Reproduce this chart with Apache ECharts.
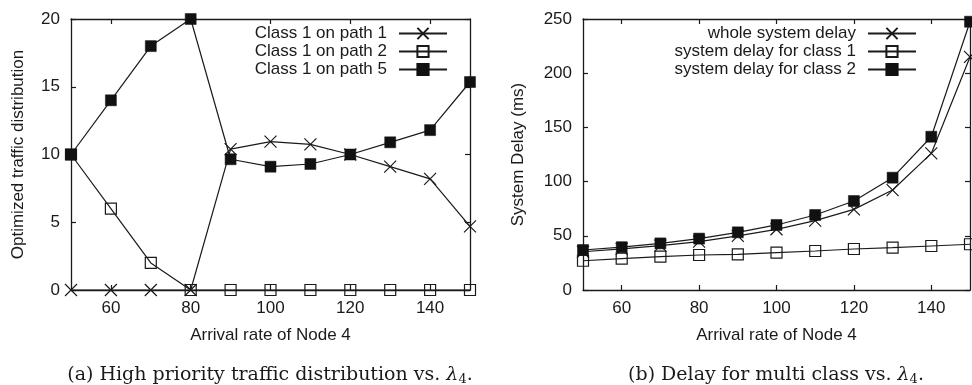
<!DOCTYPE html>
<html>
<head>
<meta charset="utf-8">
<script src="https://cdn.jsdelivr.net/npm/echarts@6/dist/echarts.min.js"></script>
<style>
  html, body { margin: 0; padding: 0; background: #fff; }
  #chart { width: 972px; height: 385px; }
</style>
</head>
<body>
<div id="chart"></div>
<script>
// Arrival rate of node 4 (shared x values for both panels)
const arrivalRates = [50, 60, 70, 80, 90, 100, 110, 120, 130, 140, 150];
const xTickValues = [60, 80, 100, 120, 140];

// (a) optimized class-1 traffic on each path
const classOnPath1 = [0, 0, 0, 0, 10.4, 10.95, 10.75, 10, 9.1, 8.2, 4.7];
const classOnPath2 = [10, 6, 2, 0, 0, 0, 0, 0, 0, 0, 0];
const classOnPath5 = [10, 14, 18, 20, 9.65, 9.1, 9.3, 10, 10.9, 11.8, 15.35];

// (b) system delay in ms
const wholeSystemDelay = [35.3, 38, 41, 44.6, 50, 56, 64, 74.4, 92.2, 126, 215];
const class1Delay = [27, 28.9, 30.7, 32.3, 32.9, 34.4, 36, 37.8, 39, 40.6, 42.2];
const class2Delay = [36.9, 39.5, 43, 47.4, 53.2, 60, 69.2, 82.1, 103.6, 141.4, 247.5];

const FONT = 'Liberation Sans';
const INK = '#1a1a1a';
const crossPath = 'path://M0,0L10,10M10,0L0,10';

function pairs(ys) {
  return arrivalRates.map((x, i) => [x, ys[i]]);
}

function bottomAxis(grid) {
  return {
    type: 'value', gridIndex: grid, position: 'bottom', min: 50, max: 150,
    name: 'Arrival rate of Node 4', nameLocation: 'middle', nameGap: 37,
    nameTextStyle: { fontFamily: FONT, fontSize: 17, color: INK },
    axisLine: { show: true, onZero: false, lineStyle: { color: INK, width: 1.3 } },
    axisTick: { show: true, inside: true, length: 5, customValues: xTickValues, lineStyle: { color: INK, width: 1.2 } },
    axisLabel: { show: true, margin: 10, customValues: xTickValues, fontFamily: FONT, fontSize: 17, color: INK },
    splitLine: { show: false }
  };
}

function topAxis(grid) {
  return {
    type: 'value', gridIndex: grid, position: 'top', min: 50, max: 150,
    axisLine: { show: true, onZero: false, lineStyle: { color: INK, width: 1.3 } },
    axisTick: { show: true, inside: true, length: 5, customValues: xTickValues, lineStyle: { color: INK, width: 1.2 } },
    axisLabel: { show: false },
    splitLine: { show: false }
  };
}

function leftAxis(grid, max, interval, name, gap) {
  return {
    type: 'value', gridIndex: grid, position: 'left', min: 0, max: max, interval: interval,
    name: name, nameLocation: 'middle', nameGap: gap,
    nameTextStyle: { fontFamily: FONT, fontSize: 17, color: INK },
    axisLine: { show: true, onZero: false, lineStyle: { color: INK, width: 1.3 } },
    axisTick: { show: true, inside: true, length: 5, lineStyle: { color: INK, width: 1.2 } },
    axisLabel: { show: true, margin: 11, fontFamily: FONT, fontSize: 17, color: INK },
    splitLine: { show: false }
  };
}

function rightAxis(grid, max, interval) {
  return {
    type: 'value', gridIndex: grid, position: 'right', min: 0, max: max, interval: interval,
    axisLine: { show: true, onZero: false, lineStyle: { color: INK, width: 1.3 } },
    axisTick: { show: true, inside: true, length: 5, lineStyle: { color: INK, width: 1.2 } },
    axisLabel: { show: false },
    splitLine: { show: false }
  };
}

function series(name, ys, xi, yi, kind) {
  const s = {
    name: name, type: 'line', xAxisIndex: xi, yAxisIndex: yi,
    data: pairs(ys), clip: false, animation: false,
    lineStyle: { color: INK, width: 1.2 },
    symbolSize: 11
  };
  if (kind === 'cross') {
    s.symbol = crossPath;
    s.symbolSize = 12;
    s.itemStyle = { color: 'rgba(0,0,0,0)', borderColor: INK, borderWidth: 1.2 };
  } else if (kind === 'open') {
    s.symbol = 'rect';
    s.itemStyle = { color: 'rgba(0,0,0,0)', borderColor: INK, borderWidth: 1.2 };
  } else {
    s.symbol = 'rect';
    s.itemStyle = { color: '#111', borderColor: '#111', borderWidth: 0.5 };
  }
  return s;
}

function legend(names, right) {
  return {
    data: names, orient: 'vertical', align: 'right',
    right: right, top: 25, padding: 0, itemGap: 1,
    itemWidth: 48, itemHeight: 14,
    textStyle: { fontFamily: FONT, fontSize: 17, color: INK, padding: [0, 7, 0, 0] },
    selectedMode: false
  };
}

function caption(x, label, body) {
  return {
    type: 'text', x: x, y: 375,
    style: {
      text: label + ' ' + body + ' vs. {l|λ}{s|4}.',
      align: 'center', verticalAlign: 'middle',
      font: '19px "DejaVu Serif"', fill: INK,
      rich: {
        l: { fontFamily: 'DejaVu Serif', fontStyle: 'italic', fontSize: 19, fill: INK },
        s: { fontFamily: 'DejaVu Serif', fontSize: 13, fill: INK, padding: [9, 0, 0, 0] }
      }
    }
  };
}

const chart = echarts.init(document.getElementById('chart'), null, { renderer: 'canvas' });
chart.setOption({
  animation: false,
  backgroundColor: '#fff',
  grid: [
    { left: 71, top: 19, width: 399, height: 271 },
    { left: 583, top: 19, width: 387, height: 271 }
  ],
  xAxis: [bottomAxis(0), topAxis(0), bottomAxis(1), topAxis(1)],
  yAxis: [
    leftAxis(0, 20, 5, 'Optimized traffic distribution', 44),
    rightAxis(0, 20, 5),
    leftAxis(1, 250, 50, 'System Delay (ms)', 56),
    rightAxis(1, 250, 50)
  ],
  legend: [
    legend(['Class 1 on path 1', 'Class 1 on path 2', 'Class 1 on path 5'], 972 - 448),
    legend(['whole system delay', 'system delay for class 1', 'system delay for class 2'], 972 - 917)
  ],
  series: [
    series('Class 1 on path 1', classOnPath1, 0, 0, 'cross'),
    series('Class 1 on path 2', classOnPath2, 0, 0, 'open'),
    series('Class 1 on path 5', classOnPath5, 0, 0, 'filled'),
    series('whole system delay', wholeSystemDelay, 2, 2, 'cross'),
    series('system delay for class 1', class1Delay, 2, 2, 'open'),
    series('system delay for class 2', class2Delay, 2, 2, 'filled')
  ],
  graphic: [
    caption(270, '(a)', 'High priority traffic distribution'),
    caption(776, '(b)', 'Delay for multi class')
  ]
});
</script>
</body>
</html>
